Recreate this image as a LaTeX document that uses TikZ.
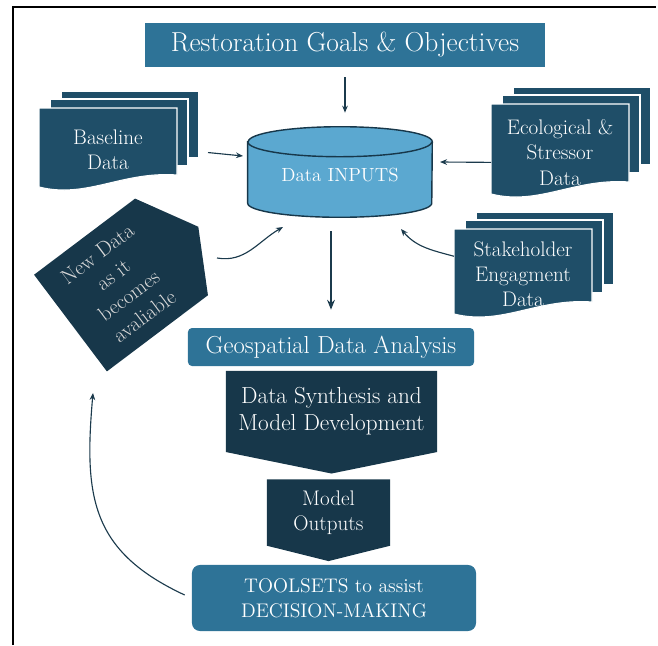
\documentclass[tikz,border=0pt]{standalone}
\usepackage{xcolor}
\usepackage{tikz}
\usetikzlibrary{positioning,arrows.meta,calc,shapes.geometric,shapes.symbols}
\definecolor{goalc}{HTML}{2E7397}
\definecolor{docc}{HTML}{1F4E68}
\definecolor{darkc}{HTML}{17374A}
\definecolor{cylc}{HTML}{5BA8D0}
\definecolor{arrc}{HTML}{1B3A4C}
\definecolor{greyt}{HTML}{D9D9D9}
\tikzset{
  goalbox/.style={fill=goalc,text=white,inner sep=0pt,align=center},
  cylp/.style={draw=darkc,line width=1pt,fill=cylc},
  cyltext/.style={text=white,inner sep=0pt,font=\fontsize{13.5}{16}\selectfont},
  sheet/.style={fill=docc,draw=white,line width=0.8pt},
  doctext/.style={text=white,align=center,inner sep=0pt,font=\fontsize{15}{18}\selectfont},
  downbox/.style={signal,signal to=south,fill=darkc,text=white,align=center,inner sep=0pt},
  newbox/.style={signal,signal to=east,signal pointer angle=122,fill=darkc,text=greyt,align=center,inner sep=0pt,
    rotate=37,minimum width=4cm,minimum height=3.025cm,font=\fontsize{15}{18.5}\selectfont},
  arr/.style={-{Stealth[length=5pt,width=4pt]},line width=0.8pt,arrc},
  bigarr/.style={-{Stealth[length=7pt,width=5.5pt]},line width=1.6pt,arrc},
}
% three sheets, text node named #1
\newcommand{\docstack}[5]{%
  \filldraw[sheet] (#2+22,-#3+17) rectangle ++(138,-#4);
  \filldraw[sheet] (#2+11,-#3+9) rectangle ++(138,-#4);
  \filldraw[sheet] (#2,-#3) -- ++(138,0) -- ++(0,-#4)
    .. controls +(-55,4) and +(48,-12) .. (#2,-#3-#4-12) -- cycle;
  \node[doctext] (#1) at (#2+69,-#3-0.62*#4) {#5};}

\begin{document}
\begin{tikzpicture}[x=0.025cm,y=0.025cm]
\useasboundingbox (0,0) rectangle (658,-645);
\draw[line width=1.2pt] (13,-645) -- (13,-7) -- (656,-7);

\node[goalbox,minimum width=10cm,minimum height=1.1cm,font=\fontsize{19.5}{23}\selectfont] (goal) at (345,-45) {Restoration Goals \& Objectives};

% the data store
\node[minimum width=4.6cm,minimum height=2.25cm,inner sep=0pt] (inp) at (340,-172) {};
\filldraw[cylp] ([yshift=-0.375cm]inp.north west) -- ([yshift=0.35cm]inp.south west)
  arc[start angle=180,end angle=360,x radius=2.3cm,y radius=0.35cm]
  -- ([yshift=-0.375cm]inp.north east)
  arc[start angle=0,end angle=180,x radius=2.3cm,y radius=0.375cm] -- cycle;
\draw[cylp,fill=none] ([yshift=-0.375cm]inp.north west) arc[start angle=180,end angle=360,x radius=2.3cm,y radius=0.375cm];
\node[cyltext] (inptxt) at ([yshift=-0.075cm]inp.center) {Data INPUTS};

\docstack{base}{39}{108}{67}{Baseline\\Data}
\docstack{eco}{491}{104}{78}{Ecological \&\\Stressor\\Data}
\docstack{stake}{454}{229}{73}{Stakeholder\\Engagment\\Data}

\node[newbox] (newd) at (121,-285) {New Data\\as it\\becomes\\avaliable};

\node[goalbox,rounded corners=0.1cm,minimum width=7.15cm,minimum height=0.95cm,font=\fontsize{17.5}{20}\selectfont] (geo) at (331,-347) {Geospatial Data Analysis};
\node[downbox,signal pointer angle=157,minimum width=5.275cm,minimum height=2.5cm,font=\fontsize{16.5}{19}\selectfont] (syn) at (331.5,-411.5) {Data Synthesis and\\Model Development};
\node[downbox,signal pointer angle=152,minimum width=3.075cm,minimum height=1.88cm,font=\fontsize{15}{18}\selectfont] (mod) at (328.5,-512.5) {Model\\Outputs};
\node[goalbox,rounded corners=0.2cm,minimum width=7.1cm,minimum height=1.65cm,font=\fontsize{14}{18}\selectfont] (tool) at (334,-598) {TOOLSETS to assist\\DECISION-MAKING};

\draw[arr,shorten <=0.25cm,shorten >=0.35cm] (goal.south) -- (goal.south |- inp.north);
\draw[bigarr,shorten <=0.35cm,shorten >=0.45cm] (inp.south -| geo.north) -- (geo.north);
\draw[arr] ($(base)+(100,-3)$) -- ($(inp)+(-97,16)$);
\draw[arr] ($(eco)+(-69,-10)$) -- ($(inp)+(100,10)$);
\draw[arr] ($(stake)+(-69,18)$) to[out=165,in=-50] ($(inp)+(61,-57)$);
\draw[arr] ($(newd)+(96,27)$) to[out=-10,in=210] ($(inp)+(-57,-55)$);
\draw[arr] ($(tool.west)+(-7,3)$) to[out=155,in=-95,looseness=1.2] ($(newd)+(-28,-108)$);
\end{tikzpicture}
\end{document}
